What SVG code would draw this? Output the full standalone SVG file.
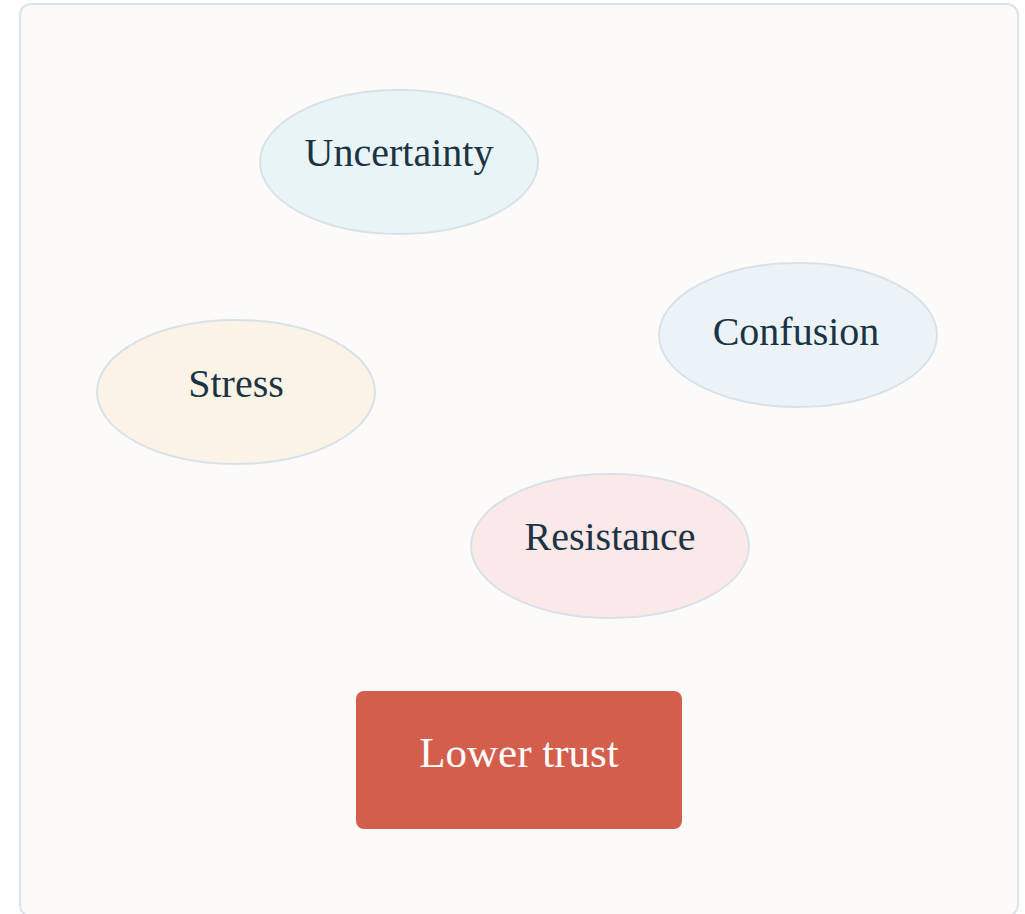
<svg xmlns="http://www.w3.org/2000/svg" width="1025" height="914" viewBox="0 0 1025 914">
  <style>
    .panel { fill: #fcfbfa; stroke: #dae2ea; stroke-width: 2; }
    .node ellipse { stroke: #d9e1e8; stroke-width: 2; }
    .label { font-family: "Liberation Serif", "Times New Roman", serif; font-size: 40px; text-anchor: middle; fill: #1b3344; }
    .label.light { fill: #ffffff; font-size: 43px; }
  </style>
  <rect width="1025" height="914" fill="#ffffff"/>
  <rect class="panel" x="20" y="4" width="998" height="912" rx="11"/>
  <g id="connectors"></g>
  <g id="node-uncertainty" class="node">
    <ellipse cx="399" cy="162" rx="139" ry="72" fill="#e8f4f6"/>
    <text class="label" x="399" y="166">Uncertainty</text>
  </g>
  <g id="node-confusion" class="node">
    <ellipse cx="798" cy="335" rx="139" ry="72" fill="#ebf3f8"/>
    <text class="label" x="796" y="345">Confusion</text>
  </g>
  <g id="node-stress" class="node">
    <ellipse cx="236" cy="392" rx="139" ry="72" fill="#faf3e6"/>
    <text class="label" x="236" y="397">Stress</text>
  </g>
  <g id="node-resistance" class="node">
    <ellipse cx="610" cy="546" rx="139" ry="72" fill="#fbe8e8"/>
    <text class="label" x="610" y="550">Resistance</text>
  </g>
  <g id="node-lower-trust" class="node">
    <rect x="356" y="691" width="326" height="138" rx="8" fill="#d35e4c"/>
    <text class="label light" x="519" y="767">Lower trust</text>
  </g>
</svg>
